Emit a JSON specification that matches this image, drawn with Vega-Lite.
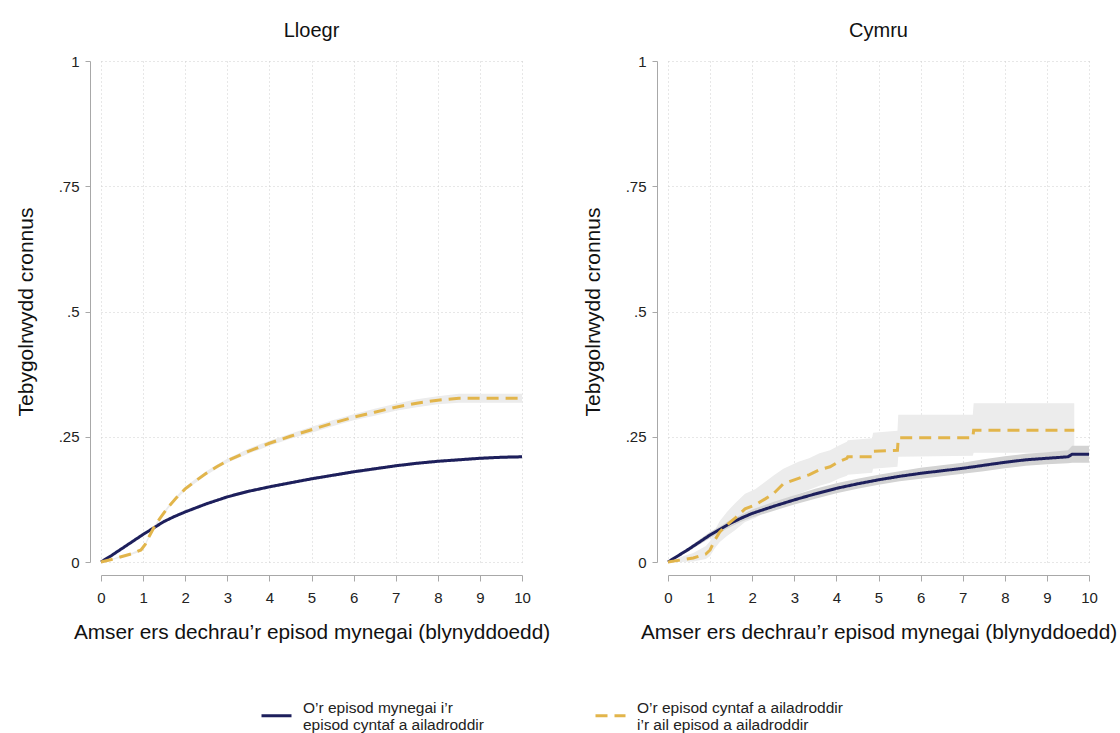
{
  "$schema": "https://vega.github.io/schema/vega-lite/v6.json",
  "background": "white",
  "padding": {"left": 15, "top": 21, "right": 5, "bottom": 0},
  "config": {
    "font": "Liberation Sans",
    "view": {"stroke": null},
    "axis": {
      "domainColor": "#a8a8a8", "tickColor": "#a8a8a8", "gridColor": "#cfcfcf", "gridDash": [1, 3],
      "labelFont": "Liberation Sans", "titleFont": "Liberation Sans", "labelColor": "#222222", "titleColor": "#111111",
      "titleFontWeight": "normal"
    },
    "header": {"labelFont": "Liberation Sans", "labelFontSize": 20, "labelColor": "#111111", "labelPadding": 13}
  },
  "data": {"values": [
    {"c":"Lloegr","s":"O’r episod mynegai i’r episod cyntaf a ailadroddir","t":0,"v":0,"lo":0,"hi":0},
    {"c":"Lloegr","s":"O’r episod mynegai i’r episod cyntaf a ailadroddir","t":0.25,"v":0.013,"lo":0.012,"hi":0.014},
    {"c":"Lloegr","s":"O’r episod mynegai i’r episod cyntaf a ailadroddir","t":0.5,"v":0.027,"lo":0.025,"hi":0.029},
    {"c":"Lloegr","s":"O’r episod mynegai i’r episod cyntaf a ailadroddir","t":0.75,"v":0.041,"lo":0.039,"hi":0.043},
    {"c":"Lloegr","s":"O’r episod mynegai i’r episod cyntaf a ailadroddir","t":1.0,"v":0.055,"lo":0.053,"hi":0.057},
    {"c":"Lloegr","s":"O’r episod mynegai i’r episod cyntaf a ailadroddir","t":1.25,"v":0.068,"lo":0.066,"hi":0.070},
    {"c":"Lloegr","s":"O’r episod mynegai i’r episod cyntaf a ailadroddir","t":1.5,"v":0.081,"lo":0.079,"hi":0.083},
    {"c":"Lloegr","s":"O’r episod mynegai i’r episod cyntaf a ailadroddir","t":1.75,"v":0.091,"lo":0.089,"hi":0.093},
    {"c":"Lloegr","s":"O’r episod mynegai i’r episod cyntaf a ailadroddir","t":2.0,"v":0.100,"lo":0.098,"hi":0.102},
    {"c":"Lloegr","s":"O’r episod mynegai i’r episod cyntaf a ailadroddir","t":2.5,"v":0.116,"lo":0.114,"hi":0.118},
    {"c":"Lloegr","s":"O’r episod mynegai i’r episod cyntaf a ailadroddir","t":3.0,"v":0.130,"lo":0.127,"hi":0.133},
    {"c":"Lloegr","s":"O’r episod mynegai i’r episod cyntaf a ailadroddir","t":3.5,"v":0.141,"lo":0.138,"hi":0.144},
    {"c":"Lloegr","s":"O’r episod mynegai i’r episod cyntaf a ailadroddir","t":4.0,"v":0.150,"lo":0.147,"hi":0.153},
    {"c":"Lloegr","s":"O’r episod mynegai i’r episod cyntaf a ailadroddir","t":4.5,"v":0.158,"lo":0.155,"hi":0.161},
    {"c":"Lloegr","s":"O’r episod mynegai i’r episod cyntaf a ailadroddir","t":5.0,"v":0.166,"lo":0.163,"hi":0.169},
    {"c":"Lloegr","s":"O’r episod mynegai i’r episod cyntaf a ailadroddir","t":5.5,"v":0.173,"lo":0.170,"hi":0.176},
    {"c":"Lloegr","s":"O’r episod mynegai i’r episod cyntaf a ailadroddir","t":6.0,"v":0.180,"lo":0.177,"hi":0.183},
    {"c":"Lloegr","s":"O’r episod mynegai i’r episod cyntaf a ailadroddir","t":6.5,"v":0.186,"lo":0.183,"hi":0.189},
    {"c":"Lloegr","s":"O’r episod mynegai i’r episod cyntaf a ailadroddir","t":7.0,"v":0.192,"lo":0.189,"hi":0.195},
    {"c":"Lloegr","s":"O’r episod mynegai i’r episod cyntaf a ailadroddir","t":7.5,"v":0.197,"lo":0.194,"hi":0.200},
    {"c":"Lloegr","s":"O’r episod mynegai i’r episod cyntaf a ailadroddir","t":8.0,"v":0.201,"lo":0.198,"hi":0.204},
    {"c":"Lloegr","s":"O’r episod mynegai i’r episod cyntaf a ailadroddir","t":8.5,"v":0.204,"lo":0.201,"hi":0.207},
    {"c":"Lloegr","s":"O’r episod mynegai i’r episod cyntaf a ailadroddir","t":9.0,"v":0.207,"lo":0.204,"hi":0.210},
    {"c":"Lloegr","s":"O’r episod mynegai i’r episod cyntaf a ailadroddir","t":9.5,"v":0.209,"lo":0.206,"hi":0.212},
    {"c":"Lloegr","s":"O’r episod mynegai i’r episod cyntaf a ailadroddir","t":10.0,"v":0.210,"lo":0.207,"hi":0.213},

    {"c":"Lloegr","s":"O’r episod cyntaf a ailadroddir i’r ail episod a ailadroddir","t":0,"v":0,"lo":0,"hi":0},
    {"c":"Lloegr","s":"O’r episod cyntaf a ailadroddir i’r ail episod a ailadroddir","t":0.25,"v":0.005,"lo":0.004,"hi":0.006},
    {"c":"Lloegr","s":"O’r episod cyntaf a ailadroddir i’r ail episod a ailadroddir","t":0.5,"v":0.011,"lo":0.009,"hi":0.013},
    {"c":"Lloegr","s":"O’r episod cyntaf a ailadroddir i’r ail episod a ailadroddir","t":0.75,"v":0.017,"lo":0.015,"hi":0.019},
    {"c":"Lloegr","s":"O’r episod cyntaf a ailadroddir i’r ail episod a ailadroddir","t":0.95,"v":0.024,"lo":0.021,"hi":0.027},
    {"c":"Lloegr","s":"O’r episod cyntaf a ailadroddir i’r ail episod a ailadroddir","t":1.05,"v":0.035,"lo":0.032,"hi":0.038},
    {"c":"Lloegr","s":"O’r episod cyntaf a ailadroddir i’r ail episod a ailadroddir","t":1.15,"v":0.052,"lo":0.049,"hi":0.055},
    {"c":"Lloegr","s":"O’r episod cyntaf a ailadroddir i’r ail episod a ailadroddir","t":1.25,"v":0.068,"lo":0.065,"hi":0.071},
    {"c":"Lloegr","s":"O’r episod cyntaf a ailadroddir i’r ail episod a ailadroddir","t":1.4,"v":0.087,"lo":0.084,"hi":0.090},
    {"c":"Lloegr","s":"O’r episod cyntaf a ailadroddir i’r ail episod a ailadroddir","t":1.6,"v":0.110,"lo":0.107,"hi":0.113},
    {"c":"Lloegr","s":"O’r episod cyntaf a ailadroddir i’r ail episod a ailadroddir","t":1.8,"v":0.129,"lo":0.126,"hi":0.132},
    {"c":"Lloegr","s":"O’r episod cyntaf a ailadroddir i’r ail episod a ailadroddir","t":2.0,"v":0.146,"lo":0.142,"hi":0.150},
    {"c":"Lloegr","s":"O’r episod cyntaf a ailadroddir i’r ail episod a ailadroddir","t":2.25,"v":0.162,"lo":0.158,"hi":0.166},
    {"c":"Lloegr","s":"O’r episod cyntaf a ailadroddir i’r ail episod a ailadroddir","t":2.5,"v":0.177,"lo":0.173,"hi":0.181},
    {"c":"Lloegr","s":"O’r episod cyntaf a ailadroddir i’r ail episod a ailadroddir","t":2.75,"v":0.190,"lo":0.186,"hi":0.194},
    {"c":"Lloegr","s":"O’r episod cyntaf a ailadroddir i’r ail episod a ailadroddir","t":3.0,"v":0.202,"lo":0.198,"hi":0.206},
    {"c":"Lloegr","s":"O’r episod cyntaf a ailadroddir i’r ail episod a ailadroddir","t":3.5,"v":0.221,"lo":0.216,"hi":0.226},
    {"c":"Lloegr","s":"O’r episod cyntaf a ailadroddir i’r ail episod a ailadroddir","t":4.0,"v":0.237,"lo":0.232,"hi":0.242},
    {"c":"Lloegr","s":"O’r episod cyntaf a ailadroddir i’r ail episod a ailadroddir","t":4.5,"v":0.251,"lo":0.246,"hi":0.256},
    {"c":"Lloegr","s":"O’r episod cyntaf a ailadroddir i’r ail episod a ailadroddir","t":5.0,"v":0.264,"lo":0.258,"hi":0.270},
    {"c":"Lloegr","s":"O’r episod cyntaf a ailadroddir i’r ail episod a ailadroddir","t":5.5,"v":0.277,"lo":0.271,"hi":0.283},
    {"c":"Lloegr","s":"O’r episod cyntaf a ailadroddir i’r ail episod a ailadroddir","t":6.0,"v":0.289,"lo":0.283,"hi":0.295},
    {"c":"Lloegr","s":"O’r episod cyntaf a ailadroddir i’r ail episod a ailadroddir","t":6.5,"v":0.299,"lo":0.292,"hi":0.306},
    {"c":"Lloegr","s":"O’r episod cyntaf a ailadroddir i’r ail episod a ailadroddir","t":7.0,"v":0.309,"lo":0.302,"hi":0.316},
    {"c":"Lloegr","s":"O’r episod cyntaf a ailadroddir i’r ail episod a ailadroddir","t":7.5,"v":0.317,"lo":0.309,"hi":0.325},
    {"c":"Lloegr","s":"O’r episod cyntaf a ailadroddir i’r ail episod a ailadroddir","t":8.0,"v":0.323,"lo":0.315,"hi":0.331},
    {"c":"Lloegr","s":"O’r episod cyntaf a ailadroddir i’r ail episod a ailadroddir","t":8.5,"v":0.327,"lo":0.318,"hi":0.336},
    {"c":"Lloegr","s":"O’r episod cyntaf a ailadroddir i’r ail episod a ailadroddir","t":9.0,"v":0.327,"lo":0.318,"hi":0.336},
    {"c":"Lloegr","s":"O’r episod cyntaf a ailadroddir i’r ail episod a ailadroddir","t":9.5,"v":0.327,"lo":0.318,"hi":0.336},
    {"c":"Lloegr","s":"O’r episod cyntaf a ailadroddir i’r ail episod a ailadroddir","t":10.0,"v":0.327,"lo":0.318,"hi":0.336},

    {"c":"Cymru","s":"O’r episod mynegai i’r episod cyntaf a ailadroddir","t":0,"v":0,"lo":0,"hi":0},
    {"c":"Cymru","s":"O’r episod mynegai i’r episod cyntaf a ailadroddir","t":0.25,"v":0.013,"lo":0.010,"hi":0.016},
    {"c":"Cymru","s":"O’r episod mynegai i’r episod cyntaf a ailadroddir","t":0.5,"v":0.026,"lo":0.022,"hi":0.030},
    {"c":"Cymru","s":"O’r episod mynegai i’r episod cyntaf a ailadroddir","t":0.75,"v":0.040,"lo":0.035,"hi":0.045},
    {"c":"Cymru","s":"O’r episod mynegai i’r episod cyntaf a ailadroddir","t":1.0,"v":0.054,"lo":0.048,"hi":0.060},
    {"c":"Cymru","s":"O’r episod mynegai i’r episod cyntaf a ailadroddir","t":1.25,"v":0.066,"lo":0.060,"hi":0.072},
    {"c":"Cymru","s":"O’r episod mynegai i’r episod cyntaf a ailadroddir","t":1.5,"v":0.078,"lo":0.071,"hi":0.085},
    {"c":"Cymru","s":"O’r episod mynegai i’r episod cyntaf a ailadroddir","t":1.75,"v":0.088,"lo":0.081,"hi":0.095},
    {"c":"Cymru","s":"O’r episod mynegai i’r episod cyntaf a ailadroddir","t":2.0,"v":0.097,"lo":0.089,"hi":0.105},
    {"c":"Cymru","s":"O’r episod mynegai i’r episod cyntaf a ailadroddir","t":2.5,"v":0.111,"lo":0.102,"hi":0.120},
    {"c":"Cymru","s":"O’r episod mynegai i’r episod cyntaf a ailadroddir","t":3.0,"v":0.124,"lo":0.115,"hi":0.133},
    {"c":"Cymru","s":"O’r episod mynegai i’r episod cyntaf a ailadroddir","t":3.5,"v":0.136,"lo":0.126,"hi":0.146},
    {"c":"Cymru","s":"O’r episod mynegai i’r episod cyntaf a ailadroddir","t":4.0,"v":0.147,"lo":0.137,"hi":0.157},
    {"c":"Cymru","s":"O’r episod mynegai i’r episod cyntaf a ailadroddir","t":4.5,"v":0.156,"lo":0.146,"hi":0.166},
    {"c":"Cymru","s":"O’r episod mynegai i’r episod cyntaf a ailadroddir","t":5.0,"v":0.164,"lo":0.154,"hi":0.174},
    {"c":"Cymru","s":"O’r episod mynegai i’r episod cyntaf a ailadroddir","t":5.5,"v":0.171,"lo":0.161,"hi":0.181},
    {"c":"Cymru","s":"O’r episod mynegai i’r episod cyntaf a ailadroddir","t":6.0,"v":0.177,"lo":0.166,"hi":0.188},
    {"c":"Cymru","s":"O’r episod mynegai i’r episod cyntaf a ailadroddir","t":6.5,"v":0.182,"lo":0.171,"hi":0.193},
    {"c":"Cymru","s":"O’r episod mynegai i’r episod cyntaf a ailadroddir","t":7.0,"v":0.187,"lo":0.176,"hi":0.198},
    {"c":"Cymru","s":"O’r episod mynegai i’r episod cyntaf a ailadroddir","t":7.5,"v":0.193,"lo":0.181,"hi":0.205},
    {"c":"Cymru","s":"O’r episod mynegai i’r episod cyntaf a ailadroddir","t":8.0,"v":0.199,"lo":0.187,"hi":0.211},
    {"c":"Cymru","s":"O’r episod mynegai i’r episod cyntaf a ailadroddir","t":8.5,"v":0.204,"lo":0.192,"hi":0.216},
    {"c":"Cymru","s":"O’r episod mynegai i’r episod cyntaf a ailadroddir","t":9.0,"v":0.207,"lo":0.195,"hi":0.219},
    {"c":"Cymru","s":"O’r episod mynegai i’r episod cyntaf a ailadroddir","t":9.5,"v":0.210,"lo":0.197,"hi":0.223},
    {"c":"Cymru","s":"O’r episod mynegai i’r episod cyntaf a ailadroddir","t":9.6,"v":0.215,"lo":0.198,"hi":0.232},
    {"c":"Cymru","s":"O’r episod mynegai i’r episod cyntaf a ailadroddir","t":10.0,"v":0.215,"lo":0.198,"hi":0.232},

    {"c":"Cymru","s":"O’r episod cyntaf a ailadroddir i’r ail episod a ailadroddir","t":0,"v":0,"lo":0,"hi":0},
    {"c":"Cymru","s":"O’r episod cyntaf a ailadroddir i’r ail episod a ailadroddir","t":0.3,"v":0.004,"lo":0.000,"hi":0.010},
    {"c":"Cymru","s":"O’r episod cyntaf a ailadroddir i’r ail episod a ailadroddir","t":0.6,"v":0.008,"lo":0.001,"hi":0.018},
    {"c":"Cymru","s":"O’r episod cyntaf a ailadroddir i’r ail episod a ailadroddir","t":0.9,"v":0.016,"lo":0.006,"hi":0.032},
    {"c":"Cymru","s":"O’r episod cyntaf a ailadroddir i’r ail episod a ailadroddir","t":1.0,"v":0.024,"lo":0.012,"hi":0.042},
    {"c":"Cymru","s":"O’r episod cyntaf a ailadroddir i’r ail episod a ailadroddir","t":1.1,"v":0.042,"lo":0.026,"hi":0.062},
    {"c":"Cymru","s":"O’r episod cyntaf a ailadroddir i’r ail episod a ailadroddir","t":1.23,"v":0.060,"lo":0.040,"hi":0.082},
    {"c":"Cymru","s":"O’r episod cyntaf a ailadroddir i’r ail episod a ailadroddir","t":1.4,"v":0.074,"lo":0.052,"hi":0.100},
    {"c":"Cymru","s":"O’r episod cyntaf a ailadroddir i’r ail episod a ailadroddir","t":1.6,"v":0.088,"lo":0.064,"hi":0.118},
    {"c":"Cymru","s":"O’r episod cyntaf a ailadroddir i’r ail episod a ailadroddir","t":1.83,"v":0.106,"lo":0.080,"hi":0.136},
    {"c":"Cymru","s":"O’r episod cyntaf a ailadroddir i’r ail episod a ailadroddir","t":2.07,"v":0.114,"lo":0.088,"hi":0.145},
    {"c":"Cymru","s":"O’r episod cyntaf a ailadroddir i’r ail episod a ailadroddir","t":2.31,"v":0.126,"lo":0.100,"hi":0.160},
    {"c":"Cymru","s":"O’r episod cyntaf a ailadroddir i’r ail episod a ailadroddir","t":2.5,"v":0.136,"lo":0.110,"hi":0.172},
    {"c":"Cymru","s":"O’r episod cyntaf a ailadroddir i’r ail episod a ailadroddir","t":2.74,"v":0.156,"lo":0.124,"hi":0.186},
    {"c":"Cymru","s":"O’r episod cyntaf a ailadroddir i’r ail episod a ailadroddir","t":3.1,"v":0.167,"lo":0.136,"hi":0.200},
    {"c":"Cymru","s":"O’r episod cyntaf a ailadroddir i’r ail episod a ailadroddir","t":3.35,"v":0.174,"lo":0.144,"hi":0.207},
    {"c":"Cymru","s":"O’r episod cyntaf a ailadroddir i’r ail episod a ailadroddir","t":3.6,"v":0.184,"lo":0.152,"hi":0.217},
    {"c":"Cymru","s":"O’r episod cyntaf a ailadroddir i’r ail episod a ailadroddir","t":3.85,"v":0.190,"lo":0.158,"hi":0.223},
    {"c":"Cymru","s":"O’r episod cyntaf a ailadroddir i’r ail episod a ailadroddir","t":4.05,"v":0.200,"lo":0.166,"hi":0.232},
    {"c":"Cymru","s":"O’r episod cyntaf a ailadroddir i’r ail episod a ailadroddir","t":4.25,"v":0.207,"lo":0.172,"hi":0.240},
    {"c":"Cymru","s":"O’r episod cyntaf a ailadroddir i’r ail episod a ailadroddir","t":4.27,"v":0.210,"lo":0.174,"hi":0.243},
    {"c":"Cymru","s":"O’r episod cyntaf a ailadroddir i’r ail episod a ailadroddir","t":4.85,"v":0.210,"lo":0.178,"hi":0.247},
    {"c":"Cymru","s":"O’r episod cyntaf a ailadroddir i’r ail episod a ailadroddir","t":4.87,"v":0.221,"lo":0.186,"hi":0.258},
    {"c":"Cymru","s":"O’r episod cyntaf a ailadroddir i’r ail episod a ailadroddir","t":5.45,"v":0.223,"lo":0.190,"hi":0.262},
    {"c":"Cymru","s":"O’r episod cyntaf a ailadroddir i’r ail episod a ailadroddir","t":5.47,"v":0.248,"lo":0.210,"hi":0.294},
    {"c":"Cymru","s":"O’r episod cyntaf a ailadroddir i’r ail episod a ailadroddir","t":7.24,"v":0.248,"lo":0.212,"hi":0.294},
    {"c":"Cymru","s":"O’r episod cyntaf a ailadroddir i’r ail episod a ailadroddir","t":7.26,"v":0.263,"lo":0.218,"hi":0.317},
    {"c":"Cymru","s":"O’r episod cyntaf a ailadroddir i’r ail episod a ailadroddir","t":9.65,"v":0.263,"lo":0.218,"hi":0.317}
  ]},
  "facet": {
    "column": {"field": "c", "type": "nominal", "sort": ["Lloegr", "Cymru"], "title": null}
  },
  "spacing": 32,
  "resolve": {"axis": {"x": "independent", "y": "independent"}},
  "spec": {
    "width": 421,
    "height": 501,
    "encoding": {
      "x": {
        "field": "t", "type": "quantitative",
        "scale": {"domain": [0, 10], "nice": false, "zero": false},
        "axis": {
          "title": "Amser ers dechrau’r episod mynegai (blynyddoedd)",
          "values": [0,1,2,3,4,5,6,7,8,9,10], "offset": 13, "tickSize": 6, "labelPadding": 9,
          "labelFontSize": 15, "titleFontSize": 20.8, "titlePadding": 17, "grid": true, "labelFlush": false
        }
      }
    },
    "layer": [
      {
        "transform": [{"filter": "indexof(datum.s, 'mynegai') < 0"}],
        "mark": {"type": "area", "color": "#ececec", "opacity": 1},
        "encoding": {
          "y": {"field": "lo", "type": "quantitative", "scale": {"domain": [0, 1], "nice": false},
            "axis": {
              "title": "Tebygolrwydd cronnus",
              "values": [0, 0.25, 0.5, 0.75, 1], "offset": 11, "tickSize": 5, "labelPadding": 6,
              "labelFontSize": 15, "titleFontSize": 21, "titlePadding": 22, "grid": true,
              "labelExpr": "datum.value == 0 ? '0' : datum.value == 1 ? '1' : replace(toString(datum.value), '0.', '.')"
            }},
          "y2": {"field": "hi"}
        }
      },
      {
        "transform": [{"filter": "indexof(datum.s, 'mynegai') >= 0"}],
        "mark": {"type": "area", "color": "#d3d3d3", "opacity": 1},
        "encoding": {
          "y": {"field": "lo", "type": "quantitative"},
          "y2": {"field": "hi"}
        }
      },
      {
        "mark": {"type": "line", "strokeWidth": 3},
        "encoding": {
          "y": {"field": "v", "type": "quantitative"},
          "color": {
            "field": "s", "type": "nominal",
            "scale": {"domain": ["O’r episod mynegai i’r episod cyntaf a ailadroddir", "O’r episod cyntaf a ailadroddir i’r ail episod a ailadroddir"], "range": ["#1d1f5c", "#e2b54b"]},
            "legend": {
              "title": null, "orient": "none", "legendX": 159, "legendY": 638, "direction": "horizontal",
              "symbolType": "stroke", "symbolSize": 900, "symbolStrokeWidth": 3, "labelFontSize": 15.5, "labelOffset": 10,
              "labelBaseline": "bottom", "labelLineHeight": 19,
              "labelLimit": 400, "columnPadding": 105, "labelFont": "Liberation Sans", "labelColor": "#222222",
              "labelExpr": "indexof(datum.label, 'mynegai') >= 0 ? ['O’r episod mynegai i’r', 'episod cyntaf a ailadroddir'] : ['O’r episod cyntaf a ailadroddir', 'i’r ail episod a ailadroddir']"
            }
          },
          "strokeDash": {
            "field": "s", "type": "nominal",
            "scale": {"domain": ["O’r episod mynegai i’r episod cyntaf a ailadroddir", "O’r episod cyntaf a ailadroddir i’r ail episod a ailadroddir"], "range": [[1, 0], [12, 7]]},
            "legend": {
              "title": null, "orient": "none", "legendX": 159, "legendY": 638, "direction": "horizontal",
              "symbolType": "stroke", "symbolSize": 900, "symbolStrokeWidth": 3, "labelFontSize": 15.5, "labelOffset": 10,
              "labelBaseline": "bottom", "labelLineHeight": 19,
              "labelLimit": 400, "columnPadding": 105, "labelFont": "Liberation Sans", "labelColor": "#222222",
              "labelExpr": "indexof(datum.label, 'mynegai') >= 0 ? ['O’r episod mynegai i’r', 'episod cyntaf a ailadroddir'] : ['O’r episod cyntaf a ailadroddir', 'i’r ail episod a ailadroddir']"
            }
          }
        }
      }
    ]
  }
}
